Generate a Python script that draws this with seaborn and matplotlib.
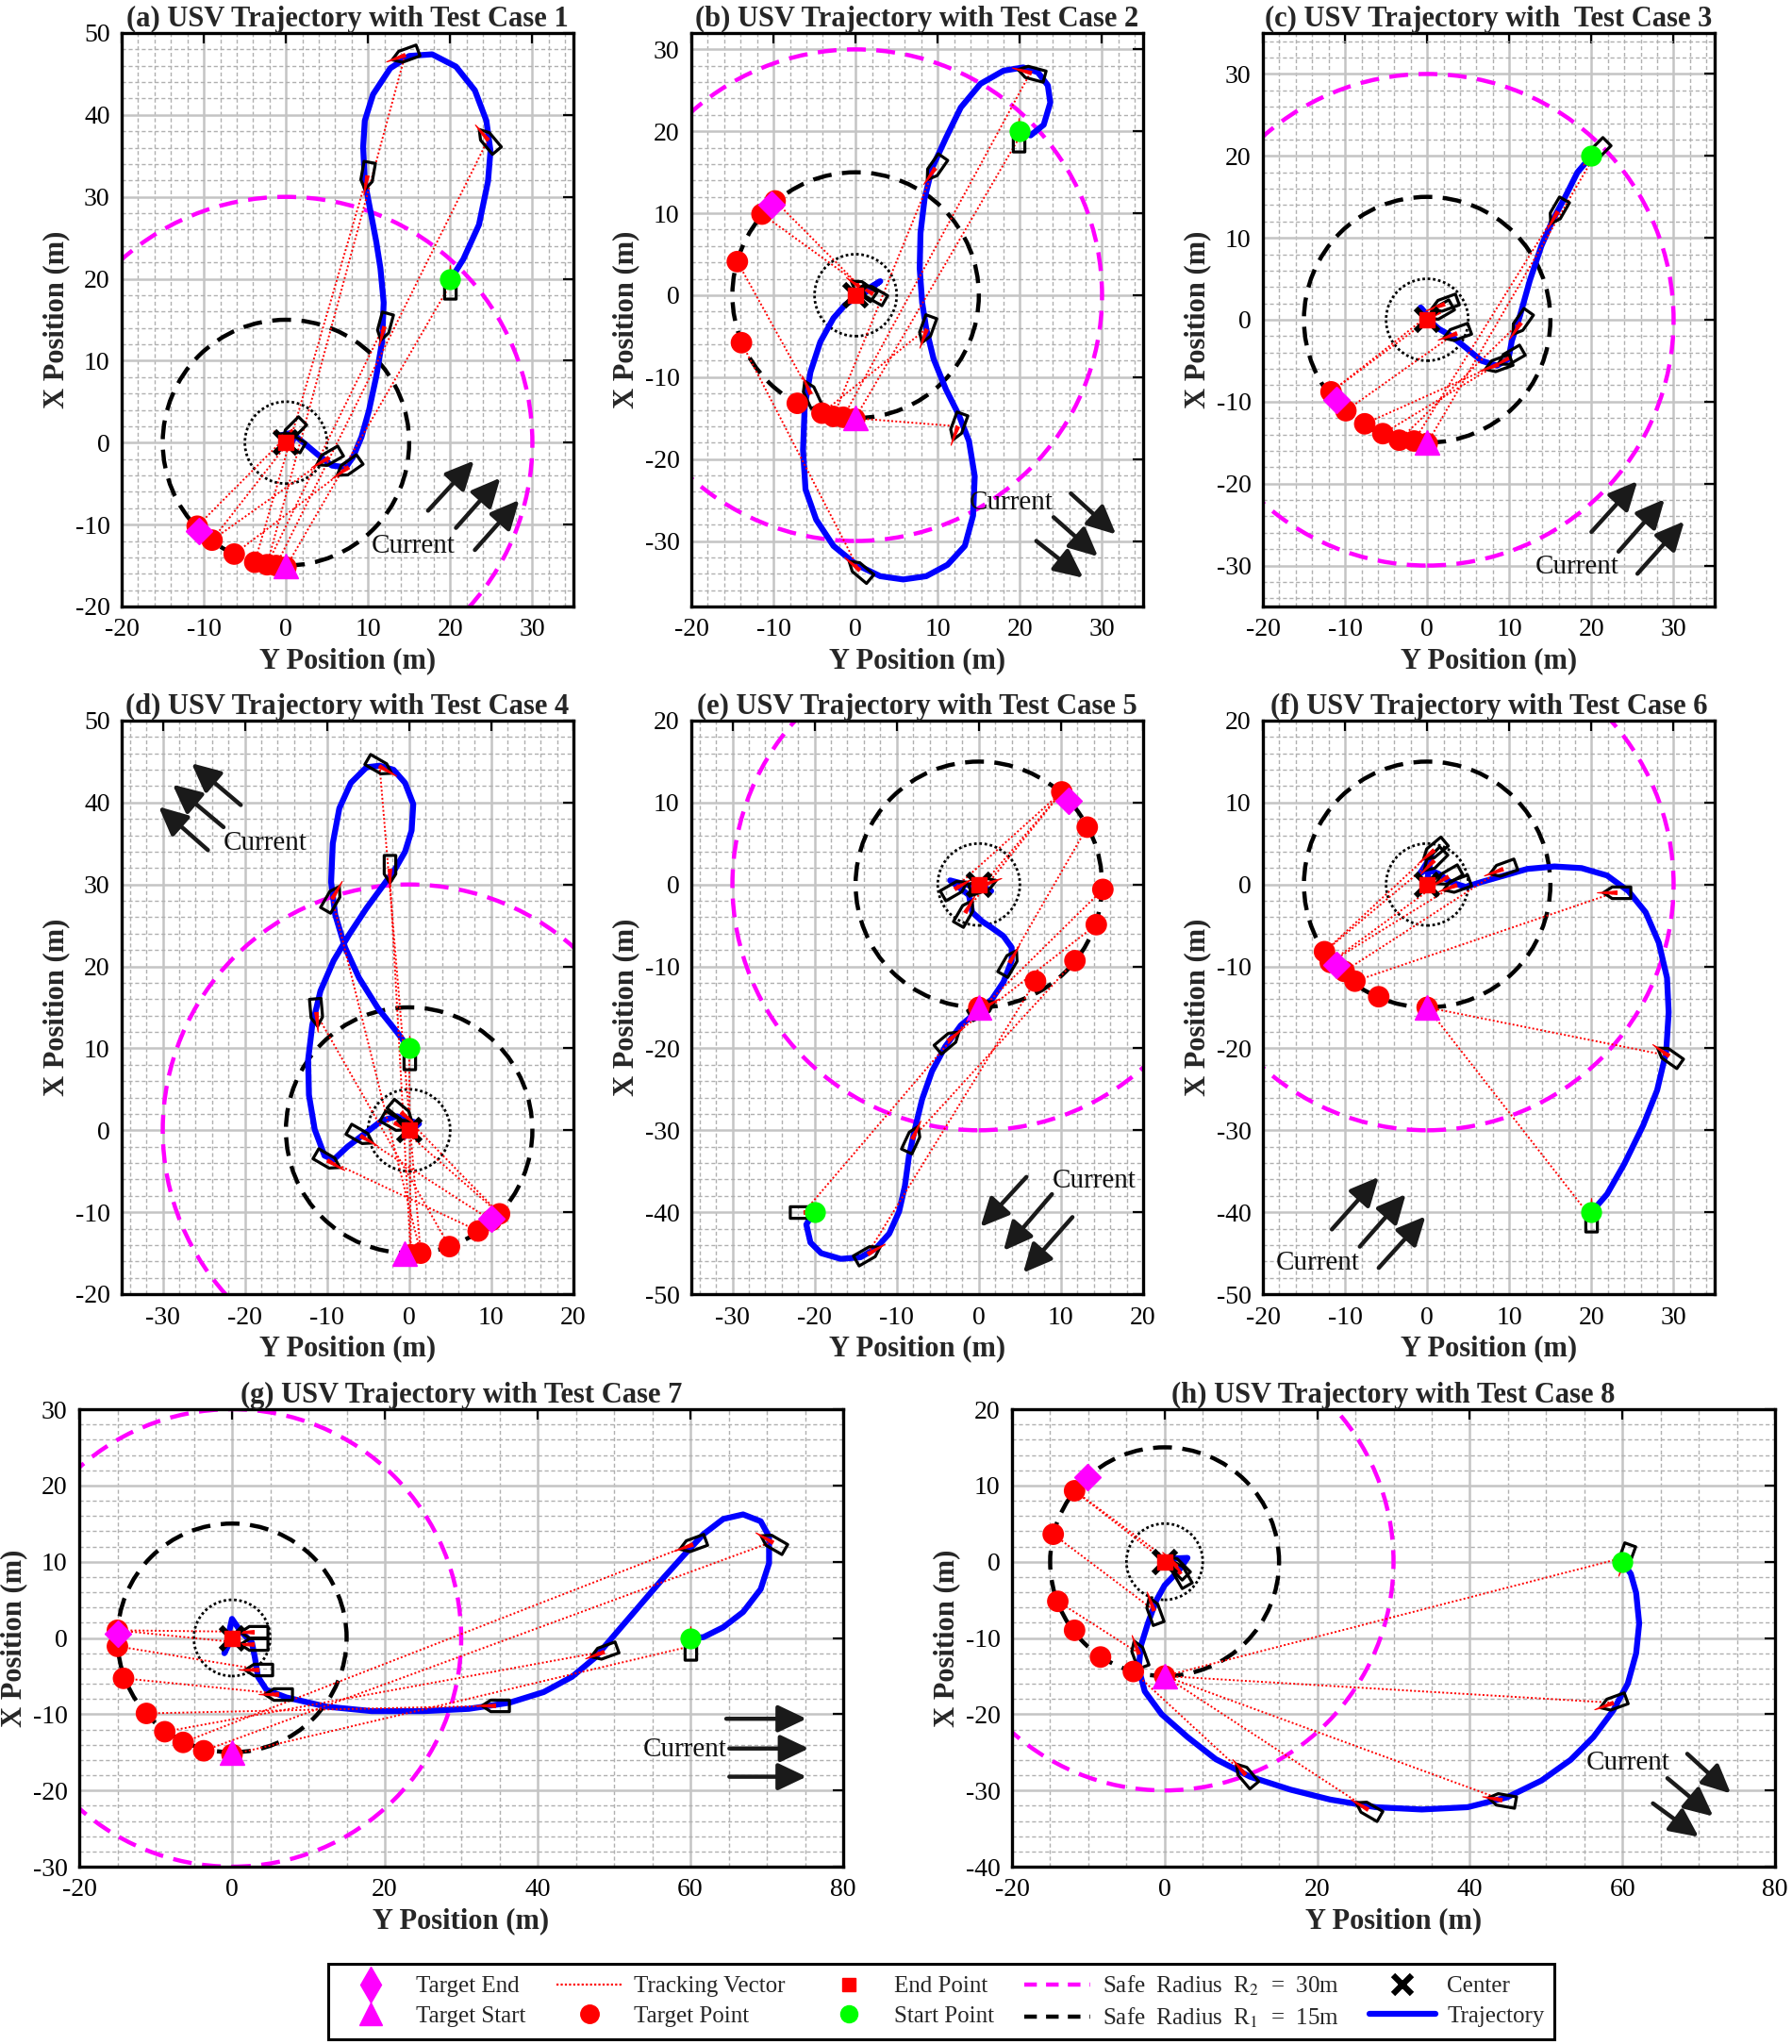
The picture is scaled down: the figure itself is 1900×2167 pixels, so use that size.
import matplotlib
matplotlib.use("Agg")
import matplotlib.pyplot as plt
import seaborn as sns
from matplotlib.markers import MarkerStyle
from matplotlib.path import Path
from matplotlib.transforms import Affine2D
from matplotlib.patches import Circle
from matplotlib.lines import Line2D
from matplotlib.ticker import MultipleLocator

# ---------------- data (horizontal = Y position, vertical = X position) ----------------
SAFE_R1 = 15
SAFE_R2 = 30
INNER_R = 5
CENTER = (0.0, 0.0)

titles = ["(a) USV Trajectory with Test Case 1", "(b) USV Trajectory with Test Case 2",
          "(c) USV Trajectory with  Test Case 3", "(d) USV Trajectory with Test Case 4",
          "(e) USV Trajectory with Test Case 5", "(f) USV Trajectory with Test Case 6",
          "(g) USV Trajectory with Test Case 7", "(h) USV Trajectory with Test Case 8"]

# ---- (a)
traj_a = [(20.1, 20.0), (21.6, 22.4), (23.5, 26.6), (24.6, 31.9), (24.9, 35.6), (24.4, 39.3), (23.0, 43.0),
          (20.7, 45.9), (17.8, 47.4), (15.0, 47.2), (12.7, 45.7), (10.6, 42.5), (9.6, 39.3), (9.4, 36.1),
          (9.6, 31.9), (10.3, 28.2), (11.0, 24.5), (11.5, 21.3), (11.9, 17.1), (11.7, 12.3), (11.0, 8.1),
          (10.1, 3.9), (9.2, 0.7), (8.2, -1.7), (7.3, -3.0), (5.6, -2.8), (3.8, -1.4), (1.9, 0.2),
          (0.7, 1.2), (-0.6, 0.9), (0.4, -0.6), (1.2, 1.0), (0.0, 0.0)]
boats_a = [(20.0, 19.3, 90), (24.6, 37.0, 130), (14.5, 47.3, 200), (9.9, 32.6, 260), (11.9, 14.2, 255),
           (7.6, -3.0, 215), (5.2, -1.8, 210), (0.8, 1.5, 225), (0.5, 0.3, 150)]
targets_a = [(0.0, -15.2), (-1.2, -15.0), (-2.3, -14.9), (-3.8, -14.6), (-6.3, -13.6), (-9.0, -11.9), (-10.8, -10.2)]
links_a = [0, 1, 2, 3, 2, 4, 5, 6, 5]
start_a, tstart_a, tend_a = (20.0, 20.0), (0.0, -15.0), (-10.6, -10.8)
current_a = [(17.3, -8.3, 22.9, -2.2), (20.7, -10.4, 26.1, -4.3), (23.0, -13.1, 28.4, -7.0)]
ctext_a = (15.5, -12.6)

# ---- (b)
traj_b = [(20.0, 20.0), (21.3, 19.5), (22.9, 20.8), (23.7, 23.5), (23.4, 25.6), (22.2, 27.2), (20.4, 27.8),
          (18.0, 27.4), (15.2, 25.8), (12.8, 22.9), (11.0, 19.2), (9.3, 15.5), (8.4, 11.8), (7.9, 7.6),
          (7.8, 3.3), (8.1, -0.9), (8.6, -4.1), (9.5, -7.8), (11.0, -11.5), (12.6, -14.7), (13.8, -17.8),
          (14.5, -22.1), (14.3, -26.9), (13.3, -30.6), (11.2, -32.9), (8.6, -34.3), (5.8, -34.7), (3.0, -34.3),
          (0.1, -32.9), (-2.7, -30.6), (-4.8, -27.4), (-6.1, -23.7), (-6.4, -18.9), (-6.2, -13.6), (-5.5, -9.4),
          (-4.3, -5.7), (-2.7, -2.8), (-1.3, -1.2), (-0.1, -0.4), (1.5, 0.8), (3.0, 1.7), (1.0, 0.2)]
boats_b = [(19.9, 19.2, 90), (21.3, 27.2, 165), (9.6, 15.5, 235), (8.6, -4.1, 250), (12.4, -16.0, 250),
           (0.4, -33.5, 140), (-5.5, -12.0, 115), (2.0, 0.2, 150), (0.8, 0.8, 145)]
targets_b = [(-0.1, -15.1), (-1.5, -14.9), (-2.7, -14.8), (-4.1, -14.4), (-7.1, -13.2), (-13.9, -5.8),
             (-14.4, 4.1), (-11.4, 9.9), (-9.8, 11.5)]
links_b = [0, 1, 2, 3, 1, 5, 6, 7, 8]
start_b, tstart_b, tend_b = (20.0, 20.0), (0.0, -15.0), (-10.2, 11.0)
current_b = [(26.2, -24.2, 31.7, -29.2), (24.1, -27.1, 29.5, -31.9), (22.0, -30.0, 27.7, -34.5)]
ctext_b = (19.0, -25.3)

# ---- (c)
traj_c = [(20.0, 20.0), (18.3, 18.0), (16.7, 14.8), (15.3, 12.2), (13.9, 9.0), (12.5, 4.8), (11.3, 0.5),
          (10.3, -2.6), (9.9, -4.8), (8.5, -5.6), (6.6, -5.0), (4.7, -3.4), (2.8, -1.9), (1.4, -1.1),
          (0.5, -0.3), (-0.8, 1.5), (0.3, 0.2)]
boats_c = [(20.7, 20.6, 225), (15.8, 13.2, 240), (11.3, -0.3, 235), (10.1, -4.5, 210), (8.6, -5.4, 200),
           (3.5, -1.6, 200), (1.5, 1.0, 210), (2.0, 2.0, 200)]
targets_c = [(0.0, -15.1), (-1.6, -14.8), (-3.4, -14.7), (-5.4, -13.9), (-7.6, -12.7), (-9.9, -11.1), (-11.7, -8.8)]
links_c = [0, 1, 2, 3, 4, 5, 6, 6]
start_c, tstart_c, tend_c = (20.0, 20.0), (0.0, -15.0), (-11.1, -9.8)
current_c = [(20.0, -25.9, 25.6, -19.7), (23.3, -28.3, 28.9, -21.9), (25.6, -31.0, 31.3, -24.6)]
ctext_c = (18.3, -30.2)

# ---- (d)
traj_d = [(0.0, 10.0), (-1.5, 12.0), (-3.8, 14.9), (-6.1, 18.6), (-7.8, 22.3), (-9.0, 26.3), (-9.5, 30.3),
          (-9.3, 35.0), (-8.5, 39.3), (-7.1, 42.4), (-5.2, 44.3), (-3.6, 44.5), (-1.9, 44.0), (-0.5, 42.4),
          (0.5, 39.8), (0.3, 36.6), (-0.5, 34.0), (-1.7, 31.9), (-3.3, 29.7), (-5.2, 27.1), (-7.3, 23.9),
          (-9.2, 20.7), (-10.8, 17.0), (-11.8, 12.8), (-12.3, 8.6), (-12.2, 4.3), (-11.5, 0.1), (-10.3, -3.1),
          (-9.2, -3.6), (-7.5, -2.0), (-5.4, -0.4), (-3.3, 1.2), (-1.5, 1.7), (1.2, 0.8), (-0.6, -0.8), (0.0, 0.6)]
boats_d = [(0.0, 9.1, 90), (-2.4, 31.9, 270), (-3.6, 44.5, -30), (-9.4, 28.4, 60), (-11.4, 14.4, 275),
           (-10.0, -3.6, -30), (-5.9, -0.7, -30), (-1.0, 2.2, -40), (-1.8, 1.0, -30)]
targets_d = [(0.2, -15.2), (1.4, -15.0), (4.9, -14.2), (8.4, -12.3), (10.0, -11.0), (11.0, -10.2)]
links_d = [0, 0, 1, 1, 2, 3, 4, 5, 5]
start_d, tstart_d, tend_d = (0.0, 10.0), (-0.5, -15.0), (10.0, -10.8)
current_d = [(-20.5, 39.7, -26.5, 44.8), (-22.6, 37.0, -28.8, 42.2), (-24.5, 34.2, -30.5, 39.5)]
ctext_d = (-17.5, 35.0)

# ---- (e)
traj_e = [(-20.1, -40.0), (-21.0, -41.5), (-20.5, -43.7), (-19.2, -45.0), (-16.8, -45.7), (-14.4, -45.5),
          (-12.5, -44.4), (-10.9, -42.6), (-9.7, -39.9), (-9.0, -36.8), (-8.5, -33.1), (-7.8, -29.9),
          (-6.9, -26.2), (-5.7, -22.8), (-4.1, -19.8), (-2.2, -17.2), (-0.3, -15.6), (1.6, -14.0), (3.0, -11.9),
          (4.0, -9.3), (4.0, -7.7), (3.0, -6.3), (1.6, -5.3), (0.4, -4.5), (-0.8, -3.4), (-1.2, -1.3),
          (-3.5, 0.5), (1.5, -0.8), (0.0, 0.0)]
boats_e = [(-21.3, -40.0, 0), (-13.5, -45.0, 30), (-8.1, -31.0, 65), (-3.8, -19.0, 40), (0.4, -15.1, 30),
           (3.7, -9.5, 60), (-1.7, -3.4, 60), (-3.0, -0.5, 30), (0.5, 0.0, 20)]
targets_e = [(0.0, -15.0), (6.9, -11.8), (11.7, -9.3), (14.3, -4.9), (15.1, -0.6), (13.2, 7.0), (10.1, 11.3)]
links_e = [0, 1, 2, 3, 4, 5, 6, 6, 6]
start_e, tstart_e, tend_e = (-20.0, -40.0), (0.0, -15.0), (10.9, 10.2)
current_e = [(5.8, -35.7, 0.2, -41.8), (8.9, -37.8, 3.0, -44.7), (11.4, -40.6, 5.4, -47.4)]
ctext_e = (14.0, -36.2)

# ---- (f)
traj_f = [(20.0, -40.0), (21.9, -37.8), (24.0, -34.1), (26.3, -29.4), (28.0, -25.1), (29.1, -20.4),
          (29.4, -15.6), (29.2, -11.4), (28.2, -7.1), (26.6, -3.4), (24.5, -0.8), (21.9, 1.1), (18.8, 2.0),
          (15.5, 2.2), (12.2, 1.9), (9.4, 1.1), (6.6, 0.3), (4.7, -0.3), (2.8, 0.3), (1.4, 1.3), (0.0, 1.9),
          (-0.9, 1.3), (0.5, 3.5), (0.0, 0.5)]
boats_f = [(20.0, -40.7, 90), (29.4, -20.9, 145), (23.1, -0.9, 180), (9.2, 1.9, 200), (3.5, 0.0, 200),
           (2.5, 1.0, 210), (0.8, 3.0, 225), (0.8, 4.2, 220)]
targets_f = [(0.0, -15.0), (-5.9, -13.7), (-8.8, -11.8), (-10.1, -10.6), (-11.8, -9.5), (-12.5, -8.2)]
links_f = [0, 0, 2, 3, 4, 4, 5, 5]
start_f, tstart_f, tend_f = (20.0, -40.0), (0.0, -15.0), (-11.1, -9.8)
current_f = [(-11.6, -42.1, -5.9, -35.7), (-8.2, -44.2, -2.6, -37.8), (-5.9, -46.8, -0.2, -40.5)]
ctext_f = (-13.3, -46.2)

# ---- (g)
traj_g = [(60.0, 0.0), (61.7, 0.1), (64.3, 1.4), (66.9, 3.4), (69.2, 6.4), (70.3, 9.8), (70.3, 13.3),
          (69.2, 15.3), (66.9, 16.2), (64.3, 15.6), (61.7, 13.6), (59.1, 10.8), (56.5, 7.9), (53.5, 4.4),
          (50.5, 0.9), (47.5, -2.6), (44.5, -5.1), (40.8, -7.1), (36.3, -8.5), (31.0, -9.3), (25.1, -9.6),
          (18.3, -9.6), (12.3, -9.0), (7.1, -7.8), (4.5, -6.8), (3.4, -5.1), (3.0, -2.6), (2.6, -0.6),
          (1.1, 0.9), (0.0, 2.5), (-1.0, -2.0), (0.0, 0.0)]
boats_g = [(60.0, -1.1, 90), (70.7, 12.6, 150), (60.2, 12.3, 200), (48.6, -1.8, 200), (34.4, -8.9, 180),
           (6.0, -7.3, 180), (3.4, -4.1, 180), (2.8, 0.8, 180), (2.8, -0.8, 180)]
targets_g = [(0.0, -15.3), (-3.7, -14.8), (-6.4, -13.7), (-8.8, -12.3), (-11.2, -9.9), (-14.2, -5.3),
             (-15.0, -1.1), (-15.0, 1.0)]
links_g = [0, 1, 2, 3, 4, 5, 6, 7, 7]
start_g, tstart_g, tend_g = (60.0, 0.0), (0.0, -15.0), (-15.0, 0.6)
current_g = [(64.7, -10.6, 75.2, -10.6), (65.1, -14.5, 75.5, -14.5), (65.1, -18.2, 75.2, -18.2)]
ctext_g = (59.3, -14.6)

# ---- (h)
traj_h = [(60.0, 0.0), (61.1, -1.6), (61.8, -4.1), (62.2, -8.1), (61.8, -12.0), (60.7, -16.0), (58.8, -19.5),
          (56.2, -23.0), (53.2, -26.0), (49.4, -28.7), (44.9, -30.9), (39.7, -32.2), (33.7, -32.5),
          (27.7, -32.2), (21.7, -31.2), (16.5, -29.9), (11.2, -28.2), (6.7, -25.9), (3.0, -23.0),
          (-0.4, -20.0), (-2.6, -17.0), (-3.4, -14.0), (-3.1, -11.0), (-2.2, -8.1), (-1.1, -5.1),
          (0.0, -3.1), (1.9, -1.1), (3.0, 0.5), (0.7, 0.4), (0.0, 0.0)]
boats_h = [(60.4, 0.6, 250), (58.8, -18.5, 200), (44.2, -31.2, 170), (26.6, -32.4, 150), (10.5, -27.9, 130),
           (-3.4, -12.0, 110), (-1.5, -6.3, 110), (2.0, -1.5, 120), (1.5, -0.5, 135)]
targets_h = [(0.0, -15.0), (-4.1, -14.4), (-8.4, -12.5), (-11.8, -9.0), (-14.0, -5.2), (-14.6, 3.6), (-11.8, 9.3)]
links_h = [0, 0, 0, 0, 1, 4, 5, 6, 6]
start_h, tstart_h, tend_h = (60.0, 0.0), (0.0, -15.0), (-10.1, 11.1)
current_h = [(68.5, -25.2, 74.2, -30.4), (65.9, -28.4, 71.9, -33.4), (64.0, -31.7, 70.0, -36.1)]
ctext_h = (60.7, -26.4)

xlims = [(-20, 35), (-20, 35), (-20, 35), (-35, 20), (-35, 20), (-20, 35), (-20, 80), (-20, 80)]
ylims = [(-20, 50), (-38, 32), (-35, 35), (-20, 50), (-50, 20), (-50, 20), (-30, 30), (-40, 20)]

legend_labels = ["Target End", "Target Start", "Tracking Vector", "Target Point", "End Point",
                 "Start Point", "Safe  Radius  R$_2$  =  30m", "Safe  Radius  R$_1$  =  15m",
                 "Center", "Trajectory"]

# ---------------- style ----------------
sns.set_theme(style="white")
plt.rcParams['font.family'] = ['Liberation Serif', 'DejaVu Serif']
plt.rcParams['mathtext.fontset'] = 'stix'
plt.rcParams['axes.unicode_minus'] = False

BLUE, RED, MAG, GREEN = '#0000ff', '#ff0000', '#ff00ff', '#00ff00'

boat_path = Path([(-1.0, -0.42), (0.35, -0.42), (1.0, 0.0), (0.35, 0.42), (-1.0, 0.42), (-1.0, -0.42)],
                 [Path.MOVETO, Path.LINETO, Path.LINETO, Path.LINETO, Path.LINETO, Path.CLOSEPOLY])
arrow_path = Path([(0.0, -0.09), (1.0, 0.0), (0.0, 0.09), (0.0, -0.09)],
                  [Path.MOVETO, Path.LINETO, Path.LINETO, Path.CLOSEPOLY])

panels = [
    (traj_a, boats_a, targets_a, links_a, start_a, tstart_a, tend_a, current_a, ctext_a),
    (traj_b, boats_b, targets_b, links_b, start_b, tstart_b, tend_b, current_b, ctext_b),
    (traj_c, boats_c, targets_c, links_c, start_c, tstart_c, tend_c, current_c, ctext_c),
    (traj_d, boats_d, targets_d, links_d, start_d, tstart_d, tend_d, current_d, ctext_d),
    (traj_e, boats_e, targets_e, links_e, start_e, tstart_e, tend_e, current_e, ctext_e),
    (traj_f, boats_f, targets_f, links_f, start_f, tstart_f, tend_f, current_f, ctext_f),
    (traj_g, boats_g, targets_g, links_g, start_g, tstart_g, tend_g, current_g, ctext_g),
    (traj_h, boats_h, targets_h, links_h, start_h, tstart_h, tend_h, current_h, ctext_h),
]

W, H = 1900, 2167
fig = plt.figure(figsize=(W / 100, H / 100), dpi=100)

# pixel boxes (left, right, top, bottom)
boxes = [(129, 608, 35, 643), (733, 1212, 35, 643), (1339, 1818, 35, 643),
         (129, 608, 764, 1372), (733, 1212, 764, 1372), (1339, 1818, 764, 1372),
         (84, 894, 1494, 1979), (1073, 1882, 1494, 1979)]


def draw(ax, idx):
    traj, boats, targets, links, start, tstart, tend, current, ctext = panels[idx]
    ax.set_xlim(*xlims[idx])
    ax.set_ylim(*ylims[idx])
    wide = idx >= 6
    ax.xaxis.set_major_locator(MultipleLocator(20 if wide else 10))
    ax.xaxis.set_minor_locator(MultipleLocator(5 if wide else 2))
    ax.yaxis.set_major_locator(MultipleLocator(10))
    ax.yaxis.set_minor_locator(MultipleLocator(2))
    ax.grid(which='major', color='#c4c4c4', lw=1.8, ls='-')
    ax.grid(which='minor', color='#b0b0b0', lw=1.0, ls=(0, (3, 2)))
    ax.set_axisbelow(True)
    ax.tick_params(which='major', direction='in', length=8, width=1.6, top=True, right=True,
                   labelsize=20, pad=9, colors='black')
    ax.tick_params(which='minor', length=0)
    for s in ax.spines.values():
        s.set_linewidth(2.4)
        s.set_color('black')

    # safe circles
    ax.add_patch(Circle(CENTER, SAFE_R2, fill=False, ec=MAG, lw=3.2, ls=(0, (4.5, 2.5)), zorder=2))
    ax.add_patch(Circle(CENTER, SAFE_R1, fill=False, ec='black', lw=3.2, ls=(0, (4.5, 2.5)), zorder=2))
    ax.add_patch(Circle(CENTER, INNER_R, fill=False, ec='black', lw=2.0, ls=(0, (1, 1)), zorder=2))

    # tracking vectors
    for b, t in zip(boats, links):
        ax.plot([b[0], targets[t][0]], [b[1], targets[t][1]], color=RED, lw=1.4,
                ls=(0, (1, 1.2)), zorder=4)

    # trajectory
    sns.lineplot(x=[p[0] for p in traj], y=[p[1] for p in traj], sort=False, estimator=None,
                 color=BLUE, lw=4.5, ax=ax, zorder=3, legend=False)

    # boats
    for (bh, bv, ang) in boats:
        ax.plot(bh, bv, ls='none', marker=MarkerStyle(boat_path, transform=Affine2D().rotate_deg(ang)),
                ms=21, mfc='none', mec='black', mew=2.3, zorder=5)
        ax.plot(bh, bv, ls='none', marker=MarkerStyle(arrow_path, transform=Affine2D().rotate_deg(ang)),
                ms=30, mfc=RED, mec=RED, mew=0.8, zorder=5)

    # targets
    sns.scatterplot(x=[p[0] for p in targets], y=[p[1] for p in targets], color=RED, s=270,
                    edgecolor='none', ax=ax, zorder=6, legend=False)
    ax.plot(*tstart, ls='none', marker='^', ms=19, color=MAG, zorder=7)
    ax.plot(*tend, ls='none', marker='D', ms=14, color=MAG, zorder=7)
    ax.plot(*start, ls='none', marker='o', ms=15, color=GREEN, zorder=7)
    ax.plot(*CENTER, ls='none', marker='x', ms=17, mew=4.5, color='black', zorder=7)
    ax.plot(*CENTER, ls='none', marker='s', ms=11, color=RED, zorder=8)

    # current arrows
    for (th, tv, hh, hv) in current:
        ax.annotate('', xy=(hh, hv), xytext=(th, tv),
                    arrowprops=dict(arrowstyle='-|>,head_length=0.8,head_width=0.38', color='#1a1a1a',
                                    lw=3.2, mutation_scale=23, shrinkA=0, shrinkB=0), zorder=9)
    ax.text(ctext[0], ctext[1], 'Current', ha='center', va='center', fontsize=21, color='#111111', zorder=9)

    ax.set_title(titles[idx], fontsize=22, fontweight='bold', pad=5)
    ax.set_xlabel('Y Position (m)', fontsize=22, fontweight='bold', labelpad=4)
    ax.set_ylabel('X Position (m)', fontsize=22, fontweight='bold', labelpad=4)


for i, (l, r, t, b) in enumerate(boxes):
    ax = fig.add_axes([l / W, 1 - b / H, (r - l) / W, (b - t) / H])
    draw(ax, i)

handles = [
    Line2D([], [], ls='none', marker='d', ms=19, color=MAG),
    Line2D([], [], ls='none', marker='^', ms=17, color=MAG),
    Line2D([], [], color=RED, lw=1.6, ls=(0, (1, 1))),
    Line2D([], [], ls='none', marker='o', ms=14, color=RED),
    Line2D([], [], ls='none', marker='s', ms=10, color=RED),
    Line2D([], [], ls='none', marker='o', ms=13, color=GREEN),
    Line2D([], [], color=MAG, lw=3.2, ls=(0, (3, 2.2))),
    Line2D([], [], color='black', lw=3.2, ls=(0, (3, 2.2))),
    Line2D([], [], ls='none', marker='x', ms=15, mew=4.5, color='black'),
    Line2D([], [], color=BLUE, lw=4.5),
]
leg = fig.legend(handles, legend_labels, ncol=5, loc='center', bbox_to_anchor=(998 / W, 1 - 2122 / H),
                 fontsize=18, frameon=True, fancybox=False, edgecolor='black', framealpha=1,
                 handlelength=2.8, columnspacing=1.3, labelspacing=0.35, borderpad=0.4, handletextpad=0.5)
leg.get_frame().set_linewidth(2.2)

fig.savefig('out.png', dpi=100)
